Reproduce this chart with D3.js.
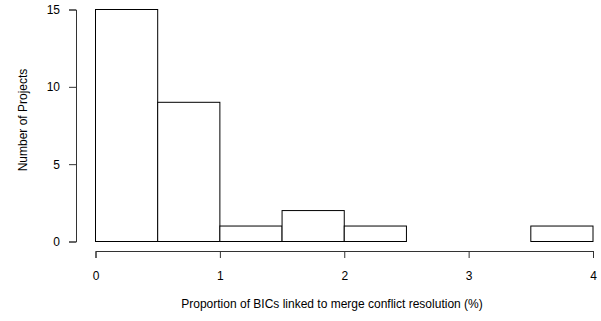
<!DOCTYPE html>
<html>
<head>
<meta charset="utf-8">
<script src="https://cdn.jsdelivr.net/npm/d3@7/dist/d3.min.js"></script>
<style>
  body { margin: 0; background: #fff; }
  text { font-family: "Liberation Sans", Arial, sans-serif; }
</style>
</head>
<body>
<div id="chart"></div>
<script>
// histogram bins (percent) and counts
const binStarts = [0, 0.5, 1, 1.5, 2, 2.5, 3, 3.5];
const binWidth = 0.5;
const counts = [15, 9, 1, 2, 1, 0, 0, 1];
const xTicks = [0, 1, 2, 3, 4];
const yTicks = [0, 5, 10, 15];

const width = 601, height = 321;

const x = d3.scaleLinear().domain([0, 4]).range([95.5, 593]);
const y = d3.scaleLinear().domain([0, 15]).range([241.5, 9.5]);

const svg = d3.select('#chart').append('svg')
  .attr('width', width)
  .attr('height', height);

// bars
svg.append('g')
  .selectAll('rect')
  .data(binStarts)
  .join('rect')
  .attr('x', d => x(d))
  .attr('y', (d, i) => y(counts[i]))
  .attr('width', d => x(d + binWidth) - x(d))
  .attr('height', (d, i) => y(0) - y(counts[i]))
  .attr('fill', '#fff')
  .attr('stroke', '#000')
  .attr('stroke-width', 1);

// x axis
const xAxis = svg.append('g')
  .attr('transform', 'translate(0,251)')
  .call(d3.axisBottom(x).tickValues(xTicks).tickFormat(d3.format('d')).tickSize(7).tickPadding(13));
xAxis.select('.domain').attr('stroke', '#333');
xAxis.selectAll('.tick line').attr('stroke', '#333');
xAxis.selectAll('text').attr('font-size', 12).attr('fill', '#000');

// y axis
const yAxis = svg.append('g')
  .attr('transform', 'translate(76,0)')
  .call(d3.axisLeft(y).tickValues(yTicks).tickFormat(d3.format('d')).tickSize(7).tickPadding(9));
yAxis.select('.domain').attr('stroke', '#333');
yAxis.selectAll('.tick line').attr('stroke', '#333');
yAxis.selectAll('text').attr('font-size', 12).attr('fill', '#000');

// axis titles
svg.append('text')
  .attr('x', 332)
  .attr('y', 308)
  .attr('text-anchor', 'middle')
  .attr('font-size', 12)
  .text('Proportion of BICs linked to merge conflict resolution (%)');

svg.append('text')
  .attr('transform', 'translate(27,120) rotate(-90)')
  .attr('text-anchor', 'middle')
  .attr('font-size', 12)
  .text('Number of Projects');
</script>
</body>
</html>
